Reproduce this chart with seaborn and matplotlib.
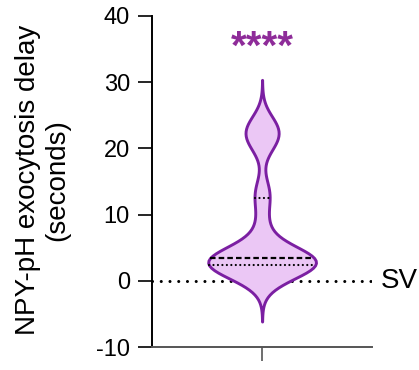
import seaborn as sns
import matplotlib.pyplot as plt

delay = [0.0, 0.8, 1.5, 1.9, 2.2, 2.3, 2.5, 2.7, 2.9, 3.1, 3.3, 3.4,
         3.6, 4.0, 4.6, 5.6, 8.5, 12.0, 14.0, 20.2, 21.6, 22.3, 23.0, 24.2]
y_ticks = [-10, 0, 10, 20, 30, 40]
sig_label = "****"
ref_label = "SV"
ref_value = 0

edge = "#7B1FA2"
fill = "#EBC7F5"
star_color = "#8E2C99"

sns.set_style("ticks")
plt.rcParams["font.family"] = ["Liberation Sans", "DejaVu Sans"]
plt.rcParams["axes.unicode_minus"] = False

fig = plt.figure(figsize=(4.19, 3.70), dpi=100)
ax = fig.add_axes([0.363, 0.062, 0.525, 0.895])

ax.axhline(ref_value, color="black", lw=2.2, ls=(0, (0.01, 2.85)),
           dash_capstyle="round", zorder=0)

sns.violinplot(y=delay, ax=ax, color=fill, linecolor=edge, linewidth=2.1,
               saturation=1, width=0.49, bw_method=0.25, cut=3,
               inner="quart", inner_kws=dict(color="black", linewidth=1.6))

# median dashed, quartiles dotted
for i, ln in enumerate(ax.lines[1:]):
    if i == 1:
        ln.set_dashes((2.5, 1.4))
    else:
        ln.set_dashes((0.01, 2.0))
        ln.set_dash_capstyle("round")

ax.set_xlim(-0.5, 0.5)
ax.set_ylim(-10, 40)
ax.set_yticks(y_ticks)
ax.set_xticks([0])
ax.set_xticklabels([""])
ax.tick_params(axis="y", labelsize=17, length=10, width=1.2, pad=6,
               colors="black")
ax.tick_params(axis="x", length=10, width=1.2, color="#555555")
ax.spines["left"].set_linewidth(1.4)
ax.spines["left"].set_color("black")
ax.spines["bottom"].set_linewidth(1.4)
ax.spines["bottom"].set_color("#555555")
sns.despine(ax=ax)

ax.set_ylabel("NPY-pH exocytosis delay\n(seconds)", fontsize=20,
              linespacing=1.2, color="black")
ax.yaxis.set_label_coords(-0.37, 0.505)

ax.text(0, 35.2, sig_label, ha="center", va="center", fontsize=29,
        fontweight="bold", color=star_color)
ax.text(1.04, ref_value, ref_label, transform=ax.get_yaxis_transform(),
        ha="left", va="center", fontsize=20, color="black", clip_on=False)

fig.savefig("out.png", dpi=100)
